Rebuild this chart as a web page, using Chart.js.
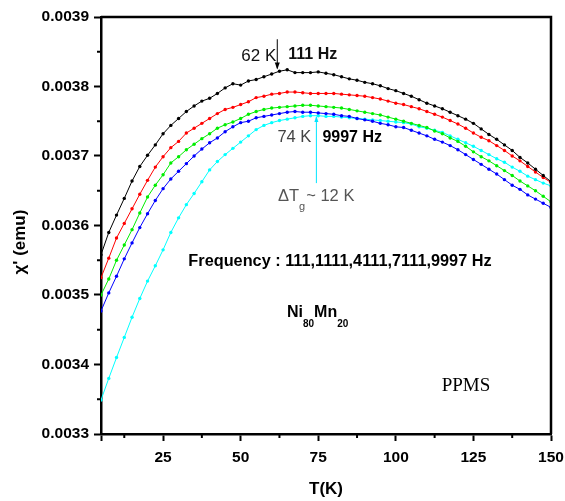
<!DOCTYPE html>
<html>
<head>
<meta charset="utf-8">
<script src="https://cdn.jsdelivr.net/npm/chart.js@4/dist/chart.umd.min.js"></script>
<style>
  html, body { margin: 0; padding: 0; background: #fff; }
  canvas { display: block; }
</style>
</head>
<body>
<canvas id="chiChart" width="565" height="501"></canvas>
<script>
// temperatura (K)
const temps = [5, 7.5, 10, 12.5, 15, 17.5, 20, 22.5, 25, 27.5, 30, 32.5, 35, 37.5, 40, 42.5, 45, 47.5, 50, 52.5,
  55, 57.5, 60, 62.5, 65, 67.5, 70, 72.5, 75, 77.5, 80, 82.5, 85, 87.5, 90, 92.5, 95, 97.5, 100, 102.5,
  105, 107.5, 110, 112.5, 115, 117.5, 120, 122.5, 125, 127.5, 130, 132.5, 135, 137.5, 140, 142.5, 145, 147.5, 150];

// chi' (emu) para cada frecuencia
const chi111 = [0.003558, 0.003590, 0.003615, 0.003639, 0.003664, 0.003685, 0.003701, 0.003716, 0.003732, 0.003744,
  0.003754, 0.003764, 0.003772, 0.003779, 0.003783, 0.003790, 0.003798, 0.003804, 0.003802, 0.003808,
  0.003810, 0.003814, 0.003818, 0.003822, 0.003824, 0.003820, 0.003820, 0.003820, 0.003821, 0.003819,
  0.003817, 0.003814, 0.003811, 0.003809, 0.003806, 0.003804, 0.003801, 0.003797, 0.003794, 0.003790,
  0.003786, 0.003781, 0.003776, 0.003772, 0.003768, 0.003763, 0.003758, 0.003753, 0.003747, 0.003739,
  0.003731, 0.003724, 0.003716, 0.003708, 0.003698, 0.003690, 0.003681, 0.003672, 0.003663];
const chi1111 = [0.003525, 0.003553, 0.003582, 0.003603, 0.003624, 0.003645, 0.003665, 0.003684, 0.003699, 0.003712,
  0.003721, 0.003733, 0.003740, 0.003747, 0.003754, 0.003761, 0.003767, 0.003770, 0.003774, 0.003778,
  0.003784, 0.003786, 0.003789, 0.003790, 0.003792, 0.003792, 0.003791, 0.003790, 0.003790, 0.003790,
  0.003790, 0.003789, 0.003788, 0.003787, 0.003786, 0.003784, 0.003782, 0.003779, 0.003776, 0.003774,
  0.003771, 0.003768, 0.003764, 0.003760, 0.003756, 0.003751, 0.003746, 0.003740, 0.003733, 0.003727,
  0.003722, 0.003715, 0.003708, 0.003700, 0.003693, 0.003685, 0.003677, 0.003669, 0.003662];
const chi4111 = [0.003500, 0.003523, 0.003550, 0.003572, 0.003594, 0.003618, 0.003641, 0.003658, 0.003673, 0.003690,
  0.003699, 0.003709, 0.003717, 0.003725, 0.003732, 0.003740, 0.003745, 0.003749, 0.003754, 0.003760,
  0.003764, 0.003767, 0.003769, 0.003770, 0.003771, 0.003772, 0.003773, 0.003773, 0.003772, 0.003771,
  0.003770, 0.003769, 0.003767, 0.003765, 0.003763, 0.003761, 0.003759, 0.003756, 0.003753, 0.003750,
  0.003747, 0.003744, 0.003741, 0.003736, 0.003732, 0.003726, 0.003721, 0.003714, 0.003706, 0.003699,
  0.003693, 0.003686, 0.003679, 0.003672, 0.003664, 0.003657, 0.003650, 0.003642, 0.003634];
const chi7111 = [0.003477, 0.003503, 0.003527, 0.003552, 0.003575, 0.003597, 0.003617, 0.003636, 0.003653, 0.003667,
  0.003678, 0.003689, 0.003700, 0.003710, 0.003719, 0.003726, 0.003735, 0.003742, 0.003748, 0.003750,
  0.003755, 0.003757, 0.003759, 0.003761, 0.003763, 0.003764, 0.003763, 0.003763, 0.003762, 0.003761,
  0.003760, 0.003758, 0.003757, 0.003754, 0.003752, 0.003750, 0.003747, 0.003745, 0.003742, 0.003741,
  0.003737, 0.003733, 0.003729, 0.003724, 0.003720, 0.003715, 0.003709, 0.003702, 0.003695, 0.003688,
  0.003681, 0.003674, 0.003666, 0.003658, 0.003652, 0.003644, 0.003638, 0.003632, 0.003626];
const chi9997 = [0.003349, 0.003380, 0.003410, 0.003439, 0.003468, 0.003495, 0.003520, 0.003542, 0.003565, 0.003590,
  0.003611, 0.003630, 0.003646, 0.003663, 0.003680, 0.003692, 0.003702, 0.003711, 0.003720, 0.003729,
  0.003738, 0.003744, 0.003748, 0.003751, 0.003753, 0.003755, 0.003757, 0.003758, 0.003758, 0.003757,
  0.003757, 0.003756, 0.003755, 0.003754, 0.003753, 0.003752, 0.003751, 0.003750, 0.003749, 0.003748,
  0.003746, 0.003742, 0.003740, 0.003737, 0.003734, 0.003729, 0.003724, 0.003719, 0.003714, 0.003708,
  0.003702, 0.003696, 0.003691, 0.003684, 0.003678, 0.003671, 0.003666, 0.003661, 0.003657];

const frecuencias = ['111 Hz', '1111 Hz', '4111 Hz', '7111 Hz', '9997 Hz'];
const colores = ['#000000', '#ff0000', '#00ee00', '#0000ff', '#00ffff'];
const series = [chi111, chi1111, chi4111, chi7111, chi9997];

// marcas de los ejes
const xTicks = [5, 25, 50, 75, 100, 125, 150];
const xMinor = [12.5, 37.5, 62.5, 87.5, 112.5, 137.5];
const yTicks = [0.0033, 0.0034, 0.0035, 0.0036, 0.0037, 0.0038, 0.0039];
const yMinor = [0.00335, 0.00345, 0.00355, 0.00365, 0.00375, 0.00385];

const familia = 'Arial, "Liberation Sans", sans-serif';
const fuenteEje = { family: familia, size: 15.5, weight: 'bold' };

// Marco, marcas menores, anotaciones
const extras = {
  id: 'extras',
  afterDraw(chart) {
    const { ctx, chartArea: a, scales: { x, y } } = chart;
    ctx.save();
    ctx.strokeStyle = '#000';
    ctx.lineWidth = 2.5;
    ctx.beginPath();
    ctx.moveTo(a.left, a.top);
    ctx.lineTo(a.right, a.top);
    ctx.lineTo(a.right, a.bottom);
    ctx.stroke();

    ctx.lineWidth = 2;
    xMinor.forEach(v => {
      const px = x.getPixelForValue(v);
      ctx.beginPath(); ctx.moveTo(px, a.bottom); ctx.lineTo(px, a.bottom + 4); ctx.stroke();
    });
    yMinor.forEach(v => {
      const py = y.getPixelForValue(v);
      ctx.beginPath(); ctx.moveTo(a.left, py); ctx.lineTo(a.left - 4, py); ctx.stroke();
    });

    // flecha 62 K
    const ax1 = x.getPixelForValue(61.8);
    const ay1a = y.getPixelForValue(0.003868), ay1b = y.getPixelForValue(0.003826);
    ctx.lineWidth = 1;
    ctx.strokeStyle = '#000';
    ctx.beginPath(); ctx.moveTo(ax1, ay1a); ctx.lineTo(ax1, ay1b); ctx.stroke();
    ctx.fillStyle = '#000';
    ctx.beginPath(); ctx.moveTo(ax1, ay1b + 1); ctx.lineTo(ax1 - 2.5, ay1b - 6); ctx.lineTo(ax1 + 2.5, ay1b - 6); ctx.closePath(); ctx.fill();

    // flecha 74 K
    const ax2 = x.getPixelForValue(74.4);
    const ay2a = y.getPixelForValue(0.003756), ay2b = y.getPixelForValue(0.003661);
    ctx.strokeStyle = '#00e5ff';
    ctx.fillStyle = '#00e5ff';
    ctx.beginPath(); ctx.moveTo(ax2, ay2a); ctx.lineTo(ax2, ay2b); ctx.stroke();
    ctx.beginPath(); ctx.moveTo(ax2, ay2a - 1); ctx.lineTo(ax2 - 2, ay2a + 5); ctx.lineTo(ax2 + 2, ay2a + 5); ctx.closePath(); ctx.fill();

    ctx.textBaseline = 'middle';
    ctx.fillStyle = '#111';
    ctx.font = '17px ' + familia;
    ctx.textAlign = 'right';
    ctx.fillText('62 K', ax1 - 1, 56);
    ctx.font = 'bold 16px ' + familia;
    ctx.textAlign = 'left';
    ctx.fillText('111 Hz', ax1 + 11, 55);

    ctx.fillStyle = '#444';
    ctx.font = '16.5px ' + familia;
    ctx.textAlign = 'right';
    ctx.fillText('74 K', ax2 - 5, 137);
    ctx.fillStyle = '#000';
    ctx.font = 'bold 16px ' + familia;
    ctx.textAlign = 'left';
    ctx.fillText('9997 Hz', ax2 + 6, 138);

    // Delta Tg ~ 12 K
    ctx.fillStyle = '#555';
    ctx.font = '16.5px ' + familia;
    let tx = 278;
    ctx.fillText('\u0394T', tx, 196);
    tx += ctx.measureText('\u0394T').width;
    ctx.font = '11px ' + familia;
    ctx.fillText('g', tx, 207);
    tx += ctx.measureText('g').width + 1;
    ctx.font = '16.5px ' + familia;
    ctx.fillText('~ 12 K', tx, 196);

    ctx.fillStyle = '#000';
    ctx.font = 'bold 16.3px ' + familia;
    ctx.textAlign = 'center';
    ctx.fillText('Frequency : 111,1111,4111,7111,9997 Hz', 340, 262);

    // Ni80Mn20
    ctx.textAlign = 'left';
    tx = 287;
    const partes = [['Ni', 0], ['80', 1], ['Mn', 0], ['20', 1]];
    partes.forEach(([t, sub]) => {
      ctx.font = sub ? 'bold 10px ' + familia : 'bold 16px ' + familia;
      ctx.fillText(t, tx, sub ? 324 : 313);
      tx += ctx.measureText(t).width;
    });

    ctx.font = '19px "Times New Roman", "Liberation Serif", serif';
    ctx.textAlign = 'center';
    ctx.fillText('PPMS', 466, 386);

    // titulo eje y
    ctx.translate(20, 242);
    ctx.rotate(-Math.PI / 2);
    ctx.font = 'bold 17px ' + familia;
    ctx.textAlign = 'center';
    ctx.fillText("\u03C7' (emu)", 0, 0);
    ctx.restore();
  }
};

const ctxChi = document.getElementById('chiChart').getContext('2d');
new Chart(ctxChi, {
  type: 'line',
  data: {
    datasets: series.map((vals, i) => ({
      label: frecuencias[i],
      data: temps.map((t, j) => ({ x: t, y: vals[j] })),
      borderColor: colores[i],
      backgroundColor: colores[i],
      borderWidth: 1,
      pointRadius: 1.7,
      pointBorderWidth: 0,
      tension: 0,
      fill: false
    }))
  },
  options: {
    responsive: false,
    animation: false,
    layout: { padding: { top: 17, right: 14, left: 0, bottom: 0 } },
    plugins: {
      legend: { display: false },
      tooltip: { enabled: false }
    },
    scales: {
      x: {
        type: 'linear',
        min: 5,
        max: 150,
        afterBuildTicks: s => { s.ticks = xTicks.map(v => ({ value: v })); },
        afterFit: s => { s.height = 67; s.paddingLeft = 0; s.paddingRight = 0; },
        ticks: {
          font: fuenteEje,
          color: '#000',
          padding: 7,
          maxRotation: 0,
          autoSkip: false,
          callback: v => (v === 5 ? '' : String(v))
        },
        grid: { drawOnChartArea: false, tickLength: 7, tickWidth: 2, tickColor: '#000' },
        border: { color: '#000', width: 2.5 },
        title: {
          display: true,
          text: 'T(K)',
          color: '#000',
          font: { family: familia, size: 17, weight: 'bold' },
          padding: { top: 0, bottom: 1 }
        }
      },
      y: {
        min: 0.0033,
        max: 0.0039,
        afterBuildTicks: s => { s.ticks = yTicks.map(v => ({ value: v })); },
        afterFit: s => { s.width = 101; s.paddingTop = 0; s.paddingBottom = 0; },
        ticks: {
          font: fuenteEje,
          color: '#000',
          padding: 5,
          callback: v => v.toFixed(4)
        },
        grid: { drawOnChartArea: false, tickLength: 7, tickWidth: 2, tickColor: '#000' },
        border: { color: '#000', width: 2.5 }
      }
    }
  },
  plugins: [extras]
});
</script>
</body>
</html>
